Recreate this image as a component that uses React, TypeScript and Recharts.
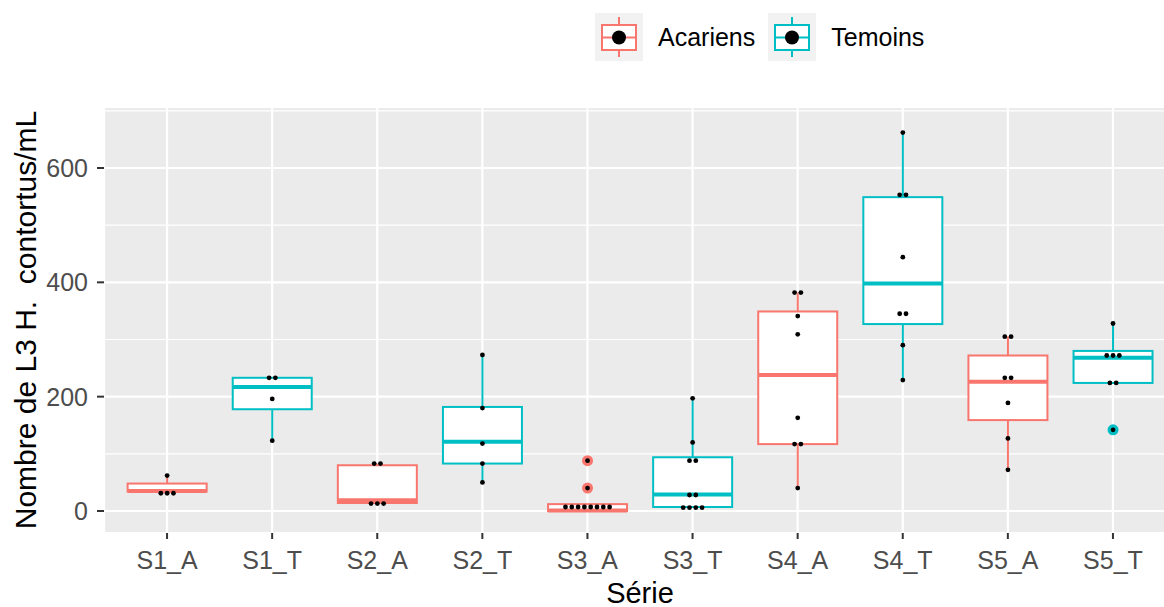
import React from "react";
import {
  ComposedChart,
  Bar,
  XAxis,
  YAxis,
  CartesianGrid,
} from "recharts";

const categories = ["S1_A", "S1_T", "S2_A", "S2_T", "S3_A", "S3_T", "S4_A", "S4_T", "S5_A", "S5_T"];
const groups = ["Acariens", "Temoins", "Acariens", "Temoins", "Acariens", "Temoins", "Acariens", "Temoins", "Acariens", "Temoins"];

// boxplot stats
const whiskerLow = [31, 123, 13, 50, 0, 6, 40, 229, 72, 224];
const q1s = [34, 178, 14, 83, 0, 7, 117, 327, 159, 224];
const medians = [35, 217, 19, 121, 1, 29, 238, 398, 226, 268];
const q3s = [48, 233, 80, 182, 12, 94, 349, 549, 272, 280];
const whiskerHigh = [62, 233, 83, 273, 12, 197, 382, 662, 305, 328];

const points = [
  [62, 31, 31, 31],
  [233, 233, 196, 123],
  [83, 83, 13, 13, 13],
  [273, 180, 118, 83, 50],
  [88, 40, 7, 7, 7, 7, 7, 7, 7, 7],
  [197, 120, 88, 88, 28, 28, 6, 6, 6, 6],
  [382, 382, 341, 309, 163, 117, 117, 40],
  [662, 553, 553, 444, 345, 345, 290, 229],
  [305, 305, 233, 233, 189, 127, 72],
  [328, 272, 272, 272, 224, 224, 142],
];
const outliers = [[], [], [], [], [88, 40], [], [], [], [], [142]];

const yTicks = [0, 200, 400, 600];
const yMinor = [100, 300, 500, 700];

const colors: Record<string, string> = { Acariens: "#F8766D", Temoins: "#00BFC4" };
const legendItems = ["Acariens", "Temoins"];

const rows = categories.map((name, i) => {
  const all = [whiskerLow[i], whiskerHigh[i], ...points[i], ...outliers[i]];
  return {
    name,
    group: groups[i],
    lo: whiskerLow[i],
    q1: q1s[i],
    med: medians[i],
    q3: q3s[i],
    hi: whiskerHigh[i],
    pts: points[i],
    out: outliers[i],
    span: [Math.min(...all), Math.max(...all)],
  };
});

if (typeof document !== "undefined") {
  document.body.style.margin = "0";
}

const DOT_GAP = 6.3;

function BoxShape(props: any) {
  const { x, y, width, height, payload } = props;
  const d = payload;
  const [a, b] = d.span;
  const top = Math.min(y, y + height);
  const h = Math.abs(height);
  const k = h / (b - a);
  const py = (v: number) => top + (b - v) * k;
  const color = colors[d.group];
  const cx = x + width / 2;

  // spread equal values side by side
  const counts: Record<number, number> = {};
  d.pts.forEach((v: number) => (counts[v] = (counts[v] || 0) + 1));
  const seen: Record<number, number> = {};
  const dots = d.pts.map((v: number, i: number) => {
    const n = counts[v];
    const j = seen[v] || 0;
    seen[v] = j + 1;
    const dx = (j - (n - 1) / 2) * DOT_GAP;
    return <circle key={"p" + i} cx={cx + dx} cy={py(v)} r={2.4} fill="#000" />;
  });

  return (
    <g>
      <line x1={cx} x2={cx} y1={py(d.q3)} y2={py(d.hi)} stroke={color} strokeWidth={2} />
      <line x1={cx} x2={cx} y1={py(d.q1)} y2={py(d.lo)} stroke={color} strokeWidth={2} />
      <rect
        x={x}
        y={py(d.q3)}
        width={width}
        height={Math.max(py(d.q1) - py(d.q3), 0.5)}
        fill="#fff"
        stroke={color}
        strokeWidth={2}
      />
      <line x1={x} x2={x + width} y1={py(d.med)} y2={py(d.med)} stroke={color} strokeWidth={4} />
      {d.out.map((v: number, i: number) => (
        <circle key={"o" + i} cx={cx} cy={py(v)} r={5.5} fill={color} />
      ))}
      {dots}
    </g>
  );
}

function LegendKey({ color }: { color: string }) {
  return (
    <svg width={48} height={48} style={{ display: "block", background: "#f2f2f2" }}>
      <line x1={24} x2={24} y1={4} y2={44} stroke={color} strokeWidth={2} />
      <rect x={7} y={12} width={34} height={25} fill="#fff" stroke={color} strokeWidth={2} />
      <line x1={7} x2={41} y1={24.5} y2={24.5} stroke={color} strokeWidth={2} />
      <circle cx={24} cy={24.5} r={7} fill="#000" />
    </svg>
  );
}

const YTitle = (props: any) => {
  const vb = props.viewBox;
  const lx = vb.x + 36;
  const ly = vb.y + vb.height / 2;
  return (
    <text
      x={lx}
      y={ly}
      transform={`rotate(-90, ${lx}, ${ly})`}
      textAnchor="middle"
      fontSize={30}
      fill="#000"
      style={{ whiteSpace: "pre" }}
    >
      {"Nombre de L3 H.  contortus/mL"}
    </text>
  );
};

const XTitle = (props: any) => {
  const vb = props.viewBox;
  return (
    <text x={vb.x + vb.width / 2} y={vb.y + 70} textAnchor="middle" fontSize={29} fill="#000">
      Série
    </text>
  );
};

export default function App() {
  return (
    <div
      style={{
        position: "relative",
        width: 1164,
        height: 607,
        overflow: "hidden",
        background: "#fff",
        fontFamily: "'Liberation Sans', Arial, sans-serif",
      }}
    >
      <div
        style={{
          position: "absolute",
          left: 595,
          top: 13,
          display: "flex",
          alignItems: "center",
          fontSize: 25,
          color: "#000",
        }}
      >
        {legendItems.map((g) => (
          <div key={g} style={{ display: "flex", alignItems: "center", marginRight: 13 }}>
            <LegendKey color={colors[g]} />
            <span style={{ marginLeft: 15, lineHeight: "48px" }}>{g}</span>
          </div>
        ))}
      </div>
      <ComposedChart
        width={1200}
        height={607}
        data={rows}
        margin={{ top: 107, right: 24, bottom: 0, left: 0 }}
        barCategoryGap="12.5%"
      >
        <CartesianGrid
          fill="#ebebeb"
          stroke="#fff"
          strokeWidth={1.2}
          vertical={false}
          horizontalValues={yMinor}
        />
        <CartesianGrid stroke="#fff" strokeWidth={2.2} />
        <XAxis
          dataKey="name"
          height={74}
          padding={{ left: 10.5, right: 10.5 }}
          axisLine={false}
          tickLine={{ stroke: "#333", strokeWidth: 2 }}
          tickSize={6}
          tickMargin={12}
          tick={{ fill: "#4d4d4d", fontSize: 25 }}
          interval={0}
          label={<XTitle />}
        />
        <YAxis
          type="number"
          width={104}
          domain={[-38.5, 706.7]}
          ticks={yTicks}
          allowDataOverflow
          axisLine={false}
          tickLine={{ stroke: "#333", strokeWidth: 2 }}
          tickSize={7}
          tickMargin={9}
          tick={{ fill: "#4d4d4d", fontSize: 25 }}
          label={<YTitle />}
        />
        <Bar dataKey="span" shape={<BoxShape />} isAnimationActive={false} />
      </ComposedChart>
    </div>
  );
}
